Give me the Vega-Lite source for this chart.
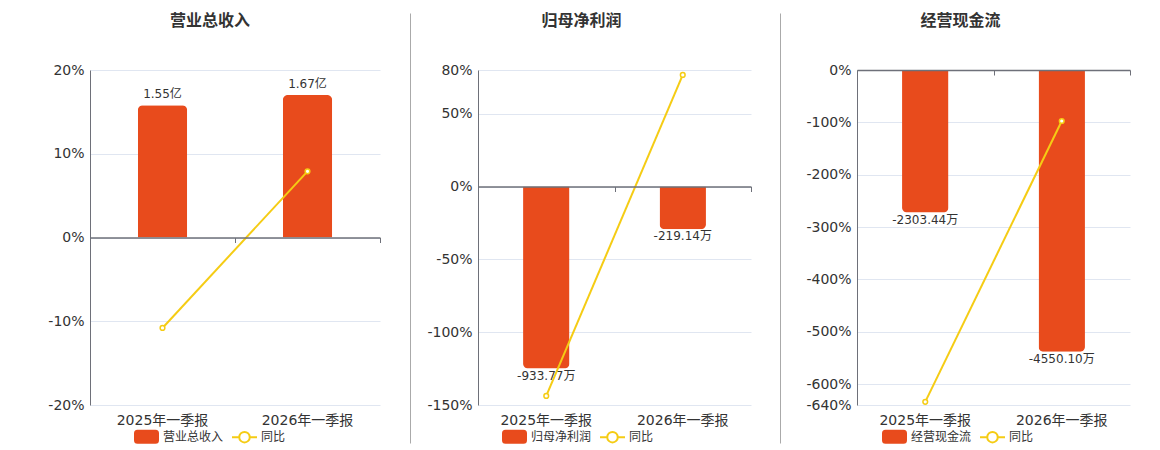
{
  "$schema": "https://vega.github.io/schema/vega-lite/v6.json",
  "padding": {"left": 46, "top": 13, "right": 0, "bottom": 0},
  "spacing": 15,
  "config": {
    "font": "DejaVu Sans, Noto Sans CJK SC",
    "view": {"stroke": null},
    "axis": {"labelFont": "DejaVu Sans, Noto Sans CJK SC"},
    "legend": {"labelFont": "Noto Sans CJK SC"}
  },
  "datasets": {
    "rev": [
      {"period": "2025年一季报", "value": 1.55, "label": "1.55亿", "yoy": -10.8},
      {"period": "2026年一季报", "value": 1.67, "label": "1.67亿", "yoy": 7.9}
    ],
    "np": [
      {"period": "2025年一季报", "value": -933.77, "label": "-933.77万", "yoy": -143.8},
      {"period": "2026年一季报", "value": -219.14, "label": "-219.14万", "yoy": 76.6}
    ],
    "cf": [
      {"period": "2025年一季报", "value": -2303.44, "label": "-2303.44万", "yoy": -634},
      {"period": "2026年一季报", "value": -4550.10, "label": "-4550.10万", "yoy": -97.4}
    ]
  },
  "hconcat": [
    {
      "width": 290, "height": 335,
      "title": {"text": "营业总收入", "font": "Noto Sans CJK SC", "fontSize": 16, "fontWeight": "bold", "color": "#333", "anchor": "middle", "dx": -25, "offset": 34},
      "data": {"name": "rev"},
      "layer": [
        {
          "encoding": {
            "x": {"field": "period", "type": "nominal", "sort": null, "scale": {"paddingInner": 0, "paddingOuter": 0},
                  "axis": {"orient": "bottom", "offset": -167.5, "labels": false, "title": null, "domainColor": "#6E7079", "domainWidth": 1.5, "tickBand": "extent", "tickColor": "#6E7079", "tickSize": 5, "grid": false, "zindex": 1}},
            "y": {"field": "value", "type": "quantitative", "scale": {"domain": [-1.963, 1.963], "nice": false},
                  "axis": {"orient": "right", "labels": false, "ticks": false, "domain": false, "grid": false, "title": null, "minExtent": 15}}
          },
          "layer": [
            {
              "mark": {"type": "bar", "width": {"band": 0.34}, "cornerRadiusTopLeft": 5, "cornerRadiusTopRight": 5},
              "encoding": {
                "fill": {"datum": "营业总收入", "scale": {"domain": ["营业总收入", "同比"], "range": ["#E84B1C", "#ffffff"]},
                  "legend": {"title": null, "orient": "none", "legendX": 43, "legendY": 353, "direction": "horizontal", "labelFontSize": 12, "labelColor": "#333", "labelOffset": 3, "columnPadding": 4, "symbolSize": 625, "symbolStrokeWidth": 2, "padding": 0,
                    "encode": {"symbols": {"update": {
                      "shape": {"signal": "datum.value === '同比' ? 'M-1,0L-0.42,0A0.42,0.42 0 1 1 0.42,0A0.42,0.42 0 1 1 -0.42,0M0.42,0L1,0' : 'M-0.72,-0.48L0.72,-0.48A0.2,0.2 0 0 1 0.92,-0.28L0.92,0.28A0.2,0.2 0 0 1 0.72,0.48L-0.72,0.48A0.2,0.2 0 0 1 -0.92,0.28L-0.92,-0.28A0.2,0.2 0 0 1 -0.72,-0.48Z'"}}}}}}
              }
            },
            {
              "mark": {"type": "text", "baseline": "bottom", "dy": -4, "fontSize": 12, "color": "#333"},
              "encoding": {"text": {"field": "label"}}
            }
          ]
        },
        {
          "encoding": {
            "x": {"field": "period", "type": "nominal", "sort": null, "scale": {"paddingInner": 0, "paddingOuter": 0},
                  "axis": {"orient": "bottom", "domain": false, "ticks": false, "title": null, "labelAngle": 0, "labelFontSize": 14, "labelColor": "#333", "labelPadding": 8}},
            "y": {"field": "yoy", "type": "quantitative", "scale": {"domain": [-20, 20], "nice": false},
                  "axis": {"orient": "left", "title": null, "values": [-20, -10, 0, 10, 20], "labelExpr": "datum.value + '%'", "ticks": false, "grid": true, "domainColor": "#6E7079", "gridColor": "#E0E6F1", "labelFontSize": 14, "labelColor": "#333", "labelPadding": 6, "minExtent": 44}}
          },
          "layer": [
            {"mark": {"type": "line", "strokeWidth": 2},
             "encoding": {"stroke": {"datum": "同比", "scale": {"domain": ["营业总收入", "同比"], "range": ["#E84B1C", "#F5CC14"]},
               "legend": {"title": null, "orient": "none", "legendX": 43, "legendY": 353, "direction": "horizontal", "labelFontSize": 12, "labelColor": "#333", "labelOffset": 3, "columnPadding": 4, "symbolSize": 625, "symbolStrokeWidth": 2, "padding": 0}}}},
            {"mark": {"type": "point", "filled": false, "fill": "#ffffff", "size": 22, "strokeWidth": 1.5, "opacity": 1}, "encoding": {"stroke": {"datum": "同比"}}}
          ]
        }
      ],
      "resolve": {"scale": {"y": "independent"}, "axis": {"x": "independent", "y": "independent"}}
    },
    {
      "width": 0.001, "height": 430,
      "data": {"values": []},
      "mark": "rule",
      "encoding": {
        "y": {"datum": 0, "type": "quantitative", "scale": {"domain": [0, 1]},
              "axis": {"position": -57, "domainColor": "#aaaaaa", "domainWidth": 1, "labels": false, "ticks": false, "grid": false, "title": null}}
      }
    },
    {
      "width": 273, "height": 335,
      "title": {"text": "归母净利润", "font": "Noto Sans CJK SC", "fontSize": 16, "fontWeight": "bold", "color": "#333", "anchor": "middle", "dx": -33, "offset": 34},
      "data": {"name": "np"},
      "layer": [
        {
          "encoding": {
            "x": {"field": "period", "type": "nominal", "sort": null, "scale": {"paddingInner": 0, "paddingOuter": 0},
                  "axis": {"orient": "bottom", "offset": -218.5, "labels": false, "title": null, "domainColor": "#6E7079", "domainWidth": 1.5, "tickBand": "extent", "tickColor": "#6E7079", "tickSize": 5, "grid": false, "zindex": 1}},
            "y": {"field": "value", "type": "quantitative", "scale": {"domain": [-1121, 597.7], "nice": false},
                  "axis": {"orient": "right", "labels": false, "ticks": false, "domain": false, "grid": false, "title": null, "minExtent": 14}}
          },
          "layer": [
            {
              "mark": {"type": "bar", "width": {"band": 0.34}, "cornerRadiusBottomLeft": 5, "cornerRadiusBottomRight": 5},
              "encoding": {
                "fill": {"datum": "归母净利润", "scale": {"domain": ["归母净利润", "同比"], "range": ["#E84B1C", "#ffffff"]},
                  "legend": {"title": null, "orient": "none", "legendX": 23, "legendY": 353, "direction": "horizontal", "labelFontSize": 12, "labelColor": "#333", "labelOffset": 3, "columnPadding": 4, "symbolSize": 625, "symbolStrokeWidth": 2, "padding": 0,
                    "encode": {"symbols": {"update": {
                      "shape": {"signal": "datum.value === '同比' ? 'M-1,0L-0.42,0A0.42,0.42 0 1 1 0.42,0A0.42,0.42 0 1 1 -0.42,0M0.42,0L1,0' : 'M-0.72,-0.48L0.72,-0.48A0.2,0.2 0 0 1 0.92,-0.28L0.92,0.28A0.2,0.2 0 0 1 0.72,0.48L-0.72,0.48A0.2,0.2 0 0 1 -0.92,0.28L-0.92,-0.28A0.2,0.2 0 0 1 -0.72,-0.48Z'"}}}}}}
              }
            },
            {
              "mark": {"type": "text", "baseline": "top", "dy": 2, "fontSize": 12, "color": "#333"},
              "encoding": {"text": {"field": "label"}}
            }
          ]
        },
        {
          "encoding": {
            "x": {"field": "period", "type": "nominal", "sort": null, "scale": {"paddingInner": 0, "paddingOuter": 0},
                  "axis": {"orient": "bottom", "domain": false, "ticks": false, "title": null, "labelAngle": 0, "labelFontSize": 14, "labelColor": "#333", "labelPadding": 8}},
            "y": {"field": "yoy", "type": "quantitative", "scale": {"domain": [-150, 80], "nice": false},
                  "axis": {"orient": "left", "title": null, "values": [-150, -100, -50, 0, 50, 80], "labelExpr": "datum.value + '%'", "ticks": false, "grid": true, "domainColor": "#6E7079", "gridColor": "#E0E6F1", "labelFontSize": 14, "labelColor": "#333", "labelPadding": 6, "minExtent": 52}}
          },
          "layer": [
            {"mark": {"type": "line", "strokeWidth": 2},
             "encoding": {"stroke": {"datum": "同比", "scale": {"domain": ["归母净利润", "同比"], "range": ["#E84B1C", "#F5CC14"]},
               "legend": {"title": null, "orient": "none", "legendX": 23, "legendY": 353, "direction": "horizontal", "labelFontSize": 12, "labelColor": "#333", "labelOffset": 3, "columnPadding": 4, "symbolSize": 625, "symbolStrokeWidth": 2, "padding": 0}}}},
            {"mark": {"type": "point", "filled": false, "fill": "#ffffff", "size": 22, "strokeWidth": 1.5, "opacity": 1}, "encoding": {"stroke": {"datum": "同比"}}}
          ]
        }
      ],
      "resolve": {"scale": {"y": "independent"}, "axis": {"x": "independent", "y": "independent"}}
    },
    {
      "width": 0.001, "height": 430,
      "data": {"values": []},
      "mark": "rule",
      "encoding": {
        "y": {"datum": 0, "type": "quantitative", "scale": {"domain": [0, 1]},
              "axis": {"position": -57, "domainColor": "#aaaaaa", "domainWidth": 1, "labels": false, "ticks": false, "grid": false, "title": null}}
      }
    },
    {
      "width": 273, "height": 335,
      "title": {"text": "经营现金流", "font": "Noto Sans CJK SC", "fontSize": 16, "fontWeight": "bold", "color": "#333", "anchor": "middle", "dx": -33, "offset": 34},
      "data": {"name": "cf"},
      "layer": [
        {
          "encoding": {
            "x": {"field": "period", "type": "nominal", "sort": null, "scale": {"paddingInner": 0, "paddingOuter": 0},
                  "axis": {"orient": "bottom", "offset": -335, "labels": false, "title": null, "domainColor": "#6E7079", "domainWidth": 1.5, "tickBand": "extent", "tickColor": "#6E7079", "tickSize": 5, "grid": false, "zindex": 1}},
            "y": {"field": "value", "type": "quantitative", "scale": {"domain": [-5412, 0], "nice": false},
                  "axis": {"orient": "right", "labels": false, "ticks": false, "domain": false, "grid": false, "title": null, "minExtent": 15}}
          },
          "layer": [
            {
              "mark": {"type": "bar", "width": {"band": 0.34}, "cornerRadiusBottomLeft": 5, "cornerRadiusBottomRight": 5},
              "encoding": {
                "fill": {"datum": "经营现金流", "scale": {"domain": ["经营现金流", "同比"], "range": ["#E84B1C", "#ffffff"]},
                  "legend": {"title": null, "orient": "none", "legendX": 24, "legendY": 353, "direction": "horizontal", "labelFontSize": 12, "labelColor": "#333", "labelOffset": 3, "columnPadding": 4, "symbolSize": 625, "symbolStrokeWidth": 2, "padding": 0,
                    "encode": {"symbols": {"update": {
                      "shape": {"signal": "datum.value === '同比' ? 'M-1,0L-0.42,0A0.42,0.42 0 1 1 0.42,0A0.42,0.42 0 1 1 -0.42,0M0.42,0L1,0' : 'M-0.72,-0.48L0.72,-0.48A0.2,0.2 0 0 1 0.92,-0.28L0.92,0.28A0.2,0.2 0 0 1 0.72,0.48L-0.72,0.48A0.2,0.2 0 0 1 -0.92,0.28L-0.92,-0.28A0.2,0.2 0 0 1 -0.72,-0.48Z'"}}}}}}
              }
            },
            {
              "mark": {"type": "text", "baseline": "top", "dy": 2, "fontSize": 12, "color": "#333"},
              "encoding": {"text": {"field": "label"}}
            }
          ]
        },
        {
          "encoding": {
            "x": {"field": "period", "type": "nominal", "sort": null, "scale": {"paddingInner": 0, "paddingOuter": 0},
                  "axis": {"orient": "bottom", "domain": false, "ticks": false, "title": null, "labelAngle": 0, "labelFontSize": 14, "labelColor": "#333", "labelPadding": 8}},
            "y": {"field": "yoy", "type": "quantitative", "scale": {"domain": [-640, 0], "nice": false},
                  "axis": {"orient": "left", "title": null, "values": [-640, -600, -500, -400, -300, -200, -100, 0], "labelExpr": "datum.value + '%'", "labelOverlap": false, "ticks": false, "grid": true, "domainColor": "#6E7079", "gridColor": "#E0E6F1", "labelFontSize": 14, "labelColor": "#333", "labelPadding": 6, "minExtent": 61}}
          },
          "layer": [
            {"mark": {"type": "line", "strokeWidth": 2},
             "encoding": {"stroke": {"datum": "同比", "scale": {"domain": ["经营现金流", "同比"], "range": ["#E84B1C", "#F5CC14"]},
               "legend": {"title": null, "orient": "none", "legendX": 24, "legendY": 353, "direction": "horizontal", "labelFontSize": 12, "labelColor": "#333", "labelOffset": 3, "columnPadding": 4, "symbolSize": 625, "symbolStrokeWidth": 2, "padding": 0}}}},
            {"mark": {"type": "point", "filled": false, "fill": "#ffffff", "size": 22, "strokeWidth": 1.5, "opacity": 1}, "encoding": {"stroke": {"datum": "同比"}}}
          ]
        }
      ],
      "resolve": {"scale": {"y": "independent"}, "axis": {"x": "independent", "y": "independent"}}
    }
  ],
  "resolve": {"scale": {"fill": "independent", "stroke": "independent", "x": "independent", "y": "independent"}, "legend": {"fill": "independent", "stroke": "independent"}}
}
